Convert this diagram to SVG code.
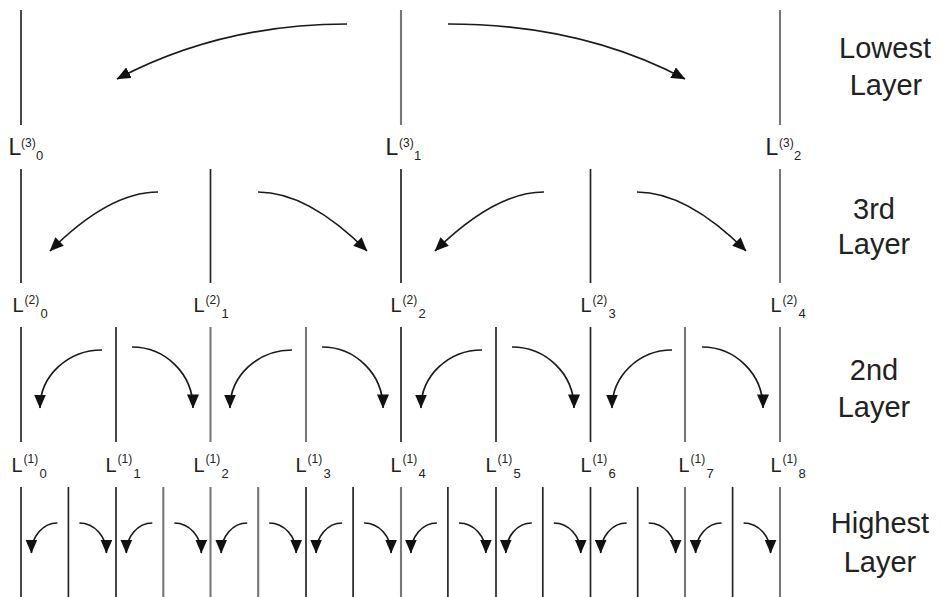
<svg xmlns="http://www.w3.org/2000/svg" width="942" height="597" viewBox="0 0 942 597">
<style>
.v{stroke:#262626;stroke-width:1.7;fill:none}
.vg{stroke:#777;stroke-width:2.1;fill:none}
.c{stroke:#1a1a1a;stroke-width:1.7;fill:none;marker-end:url(#ah)}
text{font-family:"Liberation Sans",Arial,sans-serif;fill:#222}
.L{font-size:20px}
.L3{font-size:23px}
.sup{font-size:12px}
.sub{font-size:13px}
.t{font-size:29px;text-anchor:middle}
</style>
<defs>
<marker id="ah" markerUnits="userSpaceOnUse" markerWidth="14" markerHeight="12" viewBox="0 0 14 12" refX="13.5" refY="6" orient="auto">
<path d="M0,0 L14,6 L0,12 z" fill="#111"/>
</marker>
</defs>
<rect width="942" height="597" fill="#fff"/>

<g id="lowest-lines">
<line class="v" x1="21" y1="10" x2="21" y2="125"/>
<line class="vg" x1="401" y1="10" x2="401" y2="125"/>
<line class="vg" x1="780" y1="10" x2="780" y2="125"/>
</g>
<g id="third-lines">
<line class="v" x1="21" y1="169" x2="21" y2="283"/>
<line class="v" x1="210.5" y1="169" x2="210.5" y2="283"/>
<line class="v" x1="401" y1="169" x2="401" y2="283"/>
<line class="v" x1="590.5" y1="169" x2="590.5" y2="283"/>
<line class="vg" x1="780" y1="169" x2="780" y2="283"/>
</g>
<g id="second-lines">
<line class="v" x1="21" y1="327" x2="21" y2="442"/>
<line class="v" x1="116" y1="327" x2="116" y2="442"/>
<line class="vg" x1="210.5" y1="327" x2="210.5" y2="442"/>
<line class="vg" x1="306" y1="327" x2="306" y2="442"/>
<line class="v" x1="401" y1="327" x2="401" y2="442"/>
<line class="v" x1="496" y1="327" x2="496" y2="442"/>
<line class="v" x1="590.5" y1="327" x2="590.5" y2="442"/>
<line class="vg" x1="685" y1="327" x2="685" y2="442"/>
<line class="vg" x1="780" y1="327" x2="780" y2="442"/>
</g>
<g id="highest-lines">
<line class="v" x1="21" y1="487" x2="21" y2="597"/>
<line class="v" x1="68.4" y1="487" x2="68.4" y2="597"/>
<line class="v" x1="116" y1="487" x2="116" y2="597"/>
<line class="vg" x1="163.3" y1="487" x2="163.3" y2="597"/>
<line class="vg" x1="210.5" y1="487" x2="210.5" y2="597"/>
<line class="vg" x1="258.2" y1="487" x2="258.2" y2="597"/>
<line class="v" x1="306" y1="487" x2="306" y2="597"/>
<line class="v" x1="353.1" y1="487" x2="353.1" y2="597"/>
<line class="vg" x1="401" y1="487" x2="401" y2="597"/>
<line class="v" x1="447.9" y1="487" x2="447.9" y2="597"/>
<line class="v" x1="496" y1="487" x2="496" y2="597"/>
<line class="v" x1="542.8" y1="487" x2="542.8" y2="597"/>
<line class="v" x1="590.5" y1="487" x2="590.5" y2="597"/>
<line class="v" x1="637.7" y1="487" x2="637.7" y2="597"/>
<line class="vg" x1="685" y1="487" x2="685" y2="597"/>
<line class="v" x1="732.6" y1="487" x2="732.6" y2="597"/>
<line class="vg" x1="780" y1="487" x2="780" y2="597"/>
</g>

<g id="connectors">
<path class="c" d="M347,24 Q221,24 117,79"/>
<path class="c" d="M448,24 Q581,24 685,79"/>

<path class="c" d="M158,192 Q109,192 50,251"/>
<path class="c" d="M258,192 Q308,192 367,251"/>
<path class="c" d="M544,192 Q495,192 435,251"/>
<path class="c" d="M637,192 Q687,192 746,251"/>

<path class="c" d="M102,350 A62,58 0 0 0 40,408"/>
<path class="c" d="M132,347 A61,61 0 0 1 193,408"/>
<path class="c" d="M292,350 A62,58 0 0 0 230,408"/>
<path class="c" d="M322,347 A61,61 0 0 1 383,408"/>
<path class="c" d="M482,350 A61,58 0 0 0 421,408"/>
<path class="c" d="M512,347 A62,61 0 0 1 574,408"/>
<path class="c" d="M672,350 A60,58 0 0 0 612,408"/>
<path class="c" d="M702,347 A61,61 0 0 1 763,408"/>

<path class="c" d="M57.4,523 A26,30 0 0 0 31.4,553"/>
<path class="c" d="M79.4,523 A27,30 0 0 1 106.4,553"/>
<path class="c" d="M152.3,523 A26,30 0 0 0 126.3,553"/>
<path class="c" d="M174.3,523 A27,30 0 0 1 201.3,553"/>
<path class="c" d="M247.2,523 A26,30 0 0 0 221.2,553"/>
<path class="c" d="M269.2,523 A27,30 0 0 1 296.2,553"/>
<path class="c" d="M342.1,523 A26,30 0 0 0 316.1,553"/>
<path class="c" d="M364.1,523 A27,30 0 0 1 391.1,553"/>
<path class="c" d="M436.9,523 A26,30 0 0 0 410.9,553"/>
<path class="c" d="M458.9,523 A27,30 0 0 1 485.9,553"/>
<path class="c" d="M531.8,523 A26,30 0 0 0 505.8,553"/>
<path class="c" d="M553.8,523 A27,30 0 0 1 580.8,553"/>
<path class="c" d="M626.7,523 A26,30 0 0 0 600.7,553"/>
<path class="c" d="M648.7,523 A27,30 0 0 1 675.7,553"/>
<path class="c" d="M721.6,523 A26,30 0 0 0 695.6,553"/>
<path class="c" d="M743.6,523 A27,30 0 0 1 770.6,553"/>
</g>

<g id="L3_0"><text class="L3" x="8.5" y="155">L</text><text class="sup" x="21" y="147">(3)</text><text class="sub" x="36" y="160">0</text></g>
<g id="L3_1"><text class="L3" x="385.5" y="155">L</text><text class="sup" x="399" y="147">(3)</text><text class="sub" x="414" y="160">1</text></g>
<g id="L3_2"><text class="L3" x="765.5" y="155">L</text><text class="sup" x="779" y="147">(3)</text><text class="sub" x="794" y="160">2</text></g>

<g id="L2_0"><text class="L" x="12.5" y="312">L</text><text class="sup" x="24.5" y="304">(2)</text><text class="sub" x="40.5" y="318">0</text></g>
<g id="L2_1"><text class="L" x="193.5" y="312">L</text><text class="sup" x="205.5" y="304">(2)</text><text class="sub" x="221.5" y="318">1</text></g>
<g id="L2_2"><text class="L" x="390.5" y="312">L</text><text class="sup" x="402.5" y="304">(2)</text><text class="sub" x="418.5" y="318">2</text></g>
<g id="L2_3"><text class="L" x="580.5" y="312">L</text><text class="sup" x="592.5" y="304">(2)</text><text class="sub" x="608.5" y="318">3</text></g>
<g id="L2_4"><text class="L" x="770.5" y="312">L</text><text class="sup" x="782.5" y="304">(2)</text><text class="sub" x="798.5" y="318">4</text></g>

<g id="L1_0"><text class="L" x="11.5" y="472">L</text><text class="sup" x="23.5" y="463">(1)</text><text class="sub" x="39.5" y="478">0</text></g>
<g id="L1_1"><text class="L" x="105.5" y="472">L</text><text class="sup" x="117.5" y="463">(1)</text><text class="sub" x="133.5" y="478">1</text></g>
<g id="L1_2"><text class="L" x="193.5" y="472">L</text><text class="sup" x="205.5" y="463">(1)</text><text class="sub" x="221.5" y="478">2</text></g>
<g id="L1_3"><text class="L" x="295.5" y="472">L</text><text class="sup" x="307.5" y="463">(1)</text><text class="sub" x="323.5" y="478">3</text></g>
<g id="L1_4"><text class="L" x="390.5" y="472">L</text><text class="sup" x="402.5" y="463">(1)</text><text class="sub" x="418.5" y="478">4</text></g>
<g id="L1_5"><text class="L" x="485.5" y="472">L</text><text class="sup" x="497.5" y="463">(1)</text><text class="sub" x="513.5" y="478">5</text></g>
<g id="L1_6"><text class="L" x="580.5" y="472">L</text><text class="sup" x="592.5" y="463">(1)</text><text class="sub" x="608.5" y="478">6</text></g>
<g id="L1_7"><text class="L" x="678.5" y="472">L</text><text class="sup" x="690.5" y="463">(1)</text><text class="sub" x="706.5" y="478">7</text></g>
<g id="L1_8"><text class="L" x="770.5" y="472">L</text><text class="sup" x="782.5" y="463">(1)</text><text class="sub" x="798.5" y="478">8</text></g>

<g id="title-lowest"><text class="t" x="885" y="58">Lowest</text><text class="t" x="886" y="95">Layer</text></g>
<g id="title-3rd"><text class="t" x="874" y="219">3rd</text><text class="t" x="874" y="254">Layer</text></g>
<g id="title-2nd"><text class="t" x="874" y="380">2nd</text><text class="t" x="874" y="417">Layer</text></g>
<g id="title-highest"><text class="t" x="880" y="533">Highest</text><text class="t" x="880" y="572">Layer</text></g>
</svg>
